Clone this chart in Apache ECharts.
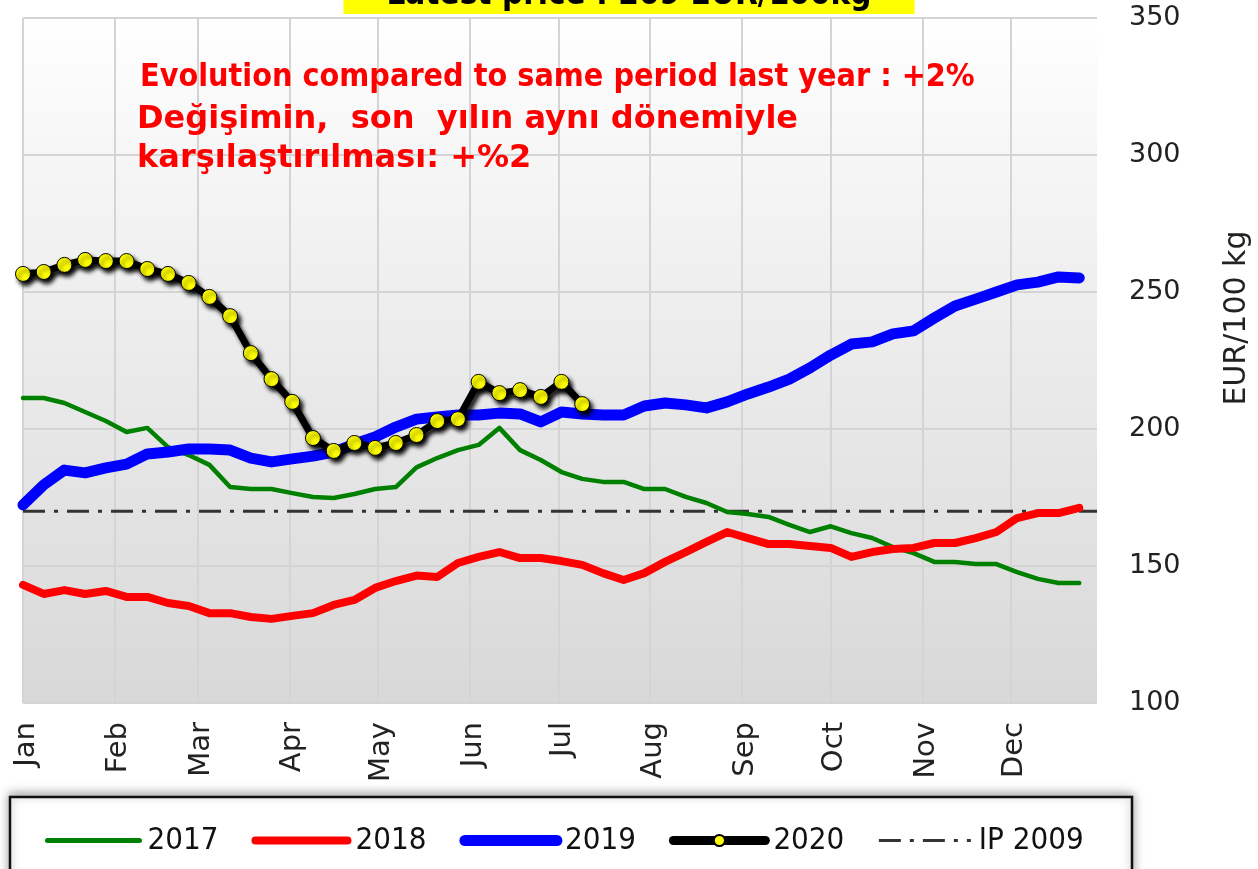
<!DOCTYPE html>
<html><head><meta charset="utf-8">
<script src="https://cdn.jsdelivr.net/npm/echarts@6/dist/echarts.min.js"></script>
<style>html,body{margin:0;padding:0;background:#fff}#c{width:1258px;height:869px}</style>
</head><body><div id="c"></div>
<script>
// ---- data ----
const months = ['Jan','Feb','Mar','Apr','May','Jun','Jul','Aug','Sep','Oct','Nov','Dec'];
const monthStartDay = [0,31,59,90,120,151,181,212,243,273,304,334];
const yTicks = [100,150,200,250,300,350];
const daysPerWeek = 7;
const xMaxDay = 363;
const s2017 = [211.3,211.3,209.5,206.2,202.9,198.9,200.4,193.4,190.5,186.9,178.8,178.1,178.1,176.6,175.2,174.8,176.3,178.1,178.8,186.0,189.4,192.3,194.2,200.4,192.3,188.7,184.3,181.8,180.7,180.7,178.1,178.1,175.2,173.0,169.7,169.0,167.9,165.0,162.4,164.5,162.0,160.2,156.9,154.7,151.5,151.5,150.7,150.7,147.8,145.3,143.8,143.8];
const s2018 = [143.1,139.8,141.2,139.8,140.9,138.7,138.7,136.5,135.4,132.8,132.8,131.4,130.7,131.8,132.8,135.8,137.6,142.0,144.5,146.5,146.0,151.1,153.3,155.1,152.9,152.9,151.8,150.4,147.4,144.9,147.4,151.5,155.1,158.8,162.4,160.2,158.0,158.0,157.3,156.6,153.3,155.1,156.2,156.6,158.4,158.4,160.2,162.4,167.5,169.3,169.3,171.2];
const s2019 = [172.3,179.6,185.0,184.0,185.8,187.2,190.9,191.6,192.7,192.7,192.3,189.4,188.0,189.1,190.1,191.6,194.5,197.1,200.7,203.6,204.4,205.1,205.1,205.8,205.5,202.6,206.2,205.5,205.1,205.1,208.4,209.5,208.8,207.7,209.9,212.8,215.3,218.2,222.3,227.0,231.0,231.8,234.7,235.8,240.5,244.9,247.4,250.0,252.6,253.6,255.5,255.1];
const s2020 = [256.6,257.3,259.9,261.7,261.3,261.3,258.4,256.6,253.3,248.2,241.2,227.7,218.2,209.9,196.7,192.0,194.9,193.1,194.9,197.8,202.9,203.6,217.2,213.1,214.2,211.7,217.2,209.1];
const ip2009 = 170;
const latestPrice = 209;

const weekly = arr => arr.map((v, i) => [i * daysPerWeek, v]);
const labelShift = 1.2; // label sits a little right of its month line
const labelDays = monthStartDay.map(d => d + labelShift);

const chart = echarts.init(document.getElementById('c'), null, {renderer: 'canvas'});
const FONT = '"DejaVu Sans", Verdana, sans-serif';
const FONTC = '"Liberation Sans Narrow", "DejaVu Sans Condensed", sans-serif';
const hideSym = {opacity: 0};

chart.setOption({
  animation: false,
  backgroundColor: '#ffffff',
  title: {
    text: 'Latest price : ' + latestPrice + ' EUR/100kg',
    left: 'center', top: -29,
    backgroundColor: '#ffff00',
    padding: [8, 43, 2, 43],
    textStyle: {fontSize: 33, fontWeight: 'bold', fontFamily: '"DejaVu Sans Condensed", sans-serif', color: '#000'}
  },
  grid: {
    left: 23, right: 161, top: 18, bottom: 166,
    show: true, borderWidth: 0,
    backgroundColor: new echarts.graphic.LinearGradient(0, 0, 0, 1, [
      {offset: 0, color: '#ffffff'},
      {offset: 0.2, color: '#f6f6f6'},
      {offset: 1, color: '#d8d8d8'}
    ])
  },
  xAxis: {
    type: 'value', min: 0, max: xMaxDay,
    axisLine: {show: false},
    axisTick: {show: false, customValues: monthStartDay},
    splitLine: {show: true, lineStyle: {color: '#d4d4d4', width: 2}},
    axisLabel: {
      customValues: labelDays,
      rotate: 90, margin: 19,
      fontSize: 29, fontFamily: FONT, color: '#222',
      formatter: v => months[labelDays.findIndex(d => Math.abs(d - v) < 0.01)] || ''
    }
  },
  yAxis: {
    type: 'value', position: 'right', min: yTicks[0], max: yTicks[yTicks.length - 1], interval: 50,
    axisLine: {show: false}, axisTick: {show: false},
    splitLine: {show: true, lineStyle: {color: '#d4d4d4', width: 2}},
    axisLabel: {margin: 32, fontSize: 27, fontFamily: FONT, color: '#222'}
  },
  legend: {
    top: 820, left: 40, z: 10,
    itemWidth: 92, itemHeight: 14, itemGap: 33,
    textStyle: {fontSize: 31, fontFamily: FONTC, color: '#111', padding: [0, 0, 0, 3]},
    data: [
      {name: '2017', lineStyle: {width: 5}, itemStyle: hideSym},
      {name: '2018', lineStyle: {width: 8}, itemStyle: hideSym},
      {name: '2019', lineStyle: {width: 11}, itemStyle: hideSym},
      {name: '2020', lineStyle: {width: 9}},
      {name: 'IP 2009', lineStyle: {width: 3}, itemStyle: hideSym}
    ]
  },
  graphic: [
    {type: 'rect', z: 1, shape: {x: 10, y: 797, width: 1122, height: 90},
     style: {fill: '#fff', stroke: '#111', lineWidth: 2.5, shadowBlur: 10, shadowColor: 'rgba(0,0,0,0.35)', shadowOffsetY: -2}},
    {type: 'text', z: 20, left: 140, top: 62,
     style: {text: 'Evolution compared to same period last year : +2%', fill: '#ff0000', fontSize: 32, fontWeight: 'bold', fontFamily: FONTC}},
    {type: 'text', z: 20, left: 137, top: 104,
     style: {text: 'Değişimin,  son  yılın aynı dönemiyle', fill: '#ff0000', fontSize: 32, fontWeight: 'bold', fontFamily: FONT}},
    {type: 'text', z: 20, left: 137, top: 143,
     style: {text: 'karşılaştırılması: +%2', fill: '#ff0000', fontSize: 32, fontWeight: 'bold', fontFamily: FONT}},
    {type: 'text', z: 20, x: 1237, y: 318, rotation: Math.PI / 2,
     style: {text: 'EUR/100 kg', fill: '#222', fontSize: 30, fontFamily: FONT, align: 'center', verticalAlign: 'middle'}}
  ],
  series: [
    {name: 'IP 2009', type: 'line', z: 2, symbol: 'none',
     data: [[0, ip2009], [xMaxDay, ip2009]],
     lineStyle: {color: '#333', width: 3, type: [22, 9, 4, 9]}, itemStyle: {color: '#333'}},
    {name: '2017', type: 'line', z: 3, symbol: 'none', data: weekly(s2017),
     lineStyle: {color: '#008000', width: 4.5, join: 'round', cap: 'round'}, itemStyle: {color: '#008000'}},
    {name: '2018', type: 'line', z: 4, symbol: 'none', data: weekly(s2018),
     lineStyle: {color: '#ff0000', width: 8, join: 'round', cap: 'round'}, itemStyle: {color: '#ff0000'}},
    {name: '2019', type: 'line', z: 5, symbol: 'none', data: weekly(s2019),
     lineStyle: {color: '#0000ff', width: 11, join: 'round', cap: 'round'}, itemStyle: {color: '#0000ff'}},
    {name: '2020', type: 'line', z: 6, symbol: 'circle', symbolSize: 15, data: weekly(s2020),
     lineStyle: {color: '#000', width: 7, join: 'round', cap: 'round', shadowColor: 'rgba(0,0,0,0.9)', shadowBlur: 4, shadowOffsetX: 3, shadowOffsetY: 4},
     itemStyle: {color: '#ffff00', borderColor: '#000', borderWidth: 1, shadowColor: 'rgba(0,0,0,0.95)', shadowBlur: 4, shadowOffsetX: 3, shadowOffsetY: 4}}
  ]
});
</script></body></html>
